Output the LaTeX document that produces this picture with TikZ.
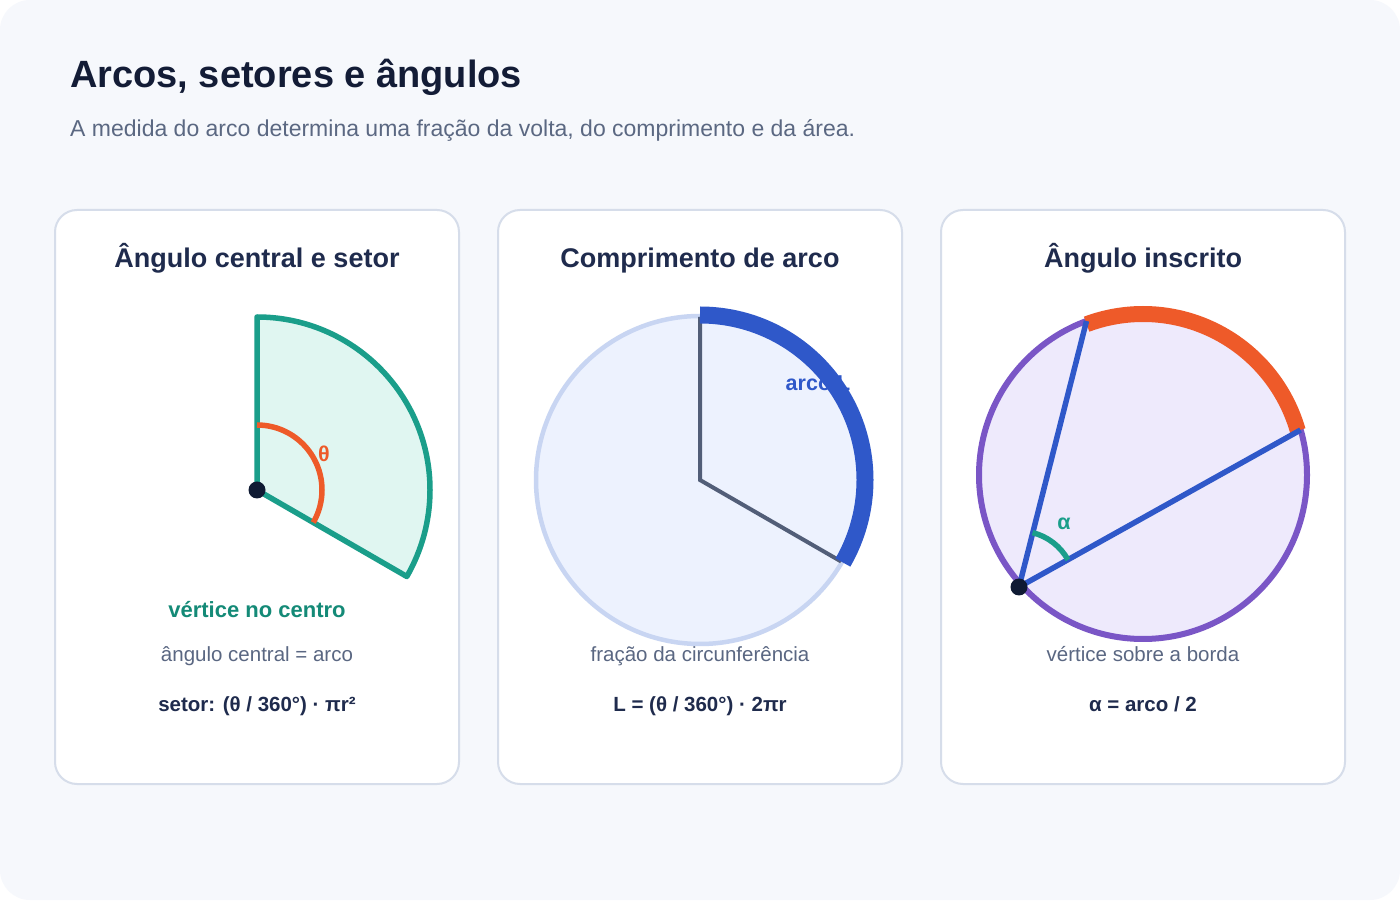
\documentclass[tikz,border=0pt]{standalone}
\usepackage{fontspec}
\setmainfont{Liberation Sans}
\usetikzlibrary{calc}
\definecolor{bgc}{HTML}{F6F8FC}
\definecolor{pborder}{HTML}{D6DDEA}
\definecolor{titlec}{HTML}{131C36}
\definecolor{subc}{HTML}{5B6882}
\definecolor{navy}{HTML}{1F2B4D}
\definecolor{tealc}{HTML}{1A9E8A}
\definecolor{tealfill}{HTML}{E0F6F1}
\definecolor{tealtext}{HTML}{148A77}
\definecolor{orangec}{HTML}{EE5A29}
\definecolor{dotc}{HTML}{0F1A33}
\definecolor{grayc}{HTML}{5A6782}
\definecolor{ptwofill}{HTML}{EDF2FE}
\definecolor{ptwostroke}{HTML}{C8D5F2}
\definecolor{radc}{HTML}{525E78}
\definecolor{bluec}{HTML}{2F58C9}
\definecolor{purplec}{HTML}{7A56C6}
\definecolor{pthreefill}{HTML}{EEEAFC}
\begin{document}
\begin{tikzpicture}[x=1pt,y=1pt,
  panel/.style={draw=pborder, line width=2, fill=white, rounded corners=22},
  ptitle/.style={anchor=base, text=navy, font=\fontsize{27}{32}\selectfont\bfseries},
  note/.style={anchor=base, text=grayc, font=\fontsize{20.5}{24}\selectfont},
  formula/.style={anchor=base, text=navy, font=\fontsize{20.5}{24}\selectfont\bfseries},
  dot/.style={circle, fill=dotc, inner sep=0pt, minimum size=17},
  lbl/.style={font=\fontsize{21.5}{26}\selectfont\bfseries}]
\fill[white] (0,0) rectangle (1400,900);
\fill[bgc, rounded corners=30] (0,0) rectangle (1400,900);
\useasboundingbox (0,0) rectangle (1400,900);

% header
\node[anchor=base west, text=titlec, font=\fontsize{38}{45}\selectfont\bfseries, inner sep=0] (title) at (70,812) {Arcos, setores e ângulos};
\node[anchor=base west, text=subc, font=\fontsize{23}{27}\selectfont, inner sep=0] (subtitle) at (70,763) {A medida do arco determina uma fração da volta, do comprimento e da área.};

% panels
\draw[panel] (55,116) rectangle (459,690);
\draw[panel] (498,116) rectangle (902,690);
\draw[panel] (941,116) rectangle (1345,690);

% panel 1
\node[ptitle] (t1) at (257,632) {Ângulo central e setor};
\coordinate (c1) at (257,410);
\filldraw[fill=tealfill, draw=tealc, line width=5.5, line join=round]
  (c1) -- ++(90:173) arc[start angle=90, end angle=-30, radius=173] -- cycle;
\draw[orangec, line width=5.5] (c1) ++(90:65) arc[start angle=90, end angle=-30, radius=65];
\node[lbl, text=orangec] (theta) at (324,446) {θ};
\node[dot] (v1) at (c1) {};
\node[anchor=base, text=tealtext, font=\fontsize{22}{26}\selectfont\bfseries] (n1a) at (257,282) {vértice no centro};
\node[note] (n1b) at (257,238) {ângulo central = arco};
\node[formula] (n1c) at (257,189) {setor: (θ / 360°) · πr²};

% panel 2
\node[ptitle] (t2) at (700,632) {Comprimento de arco};
\coordinate (c2) at (700,420);
\filldraw[fill=ptwofill, draw=ptwostroke, line width=4.5] (c2) circle (164);
\draw[radc, line width=4] (c2) ++(90:163) -- (c2) -- ++(-30:163);
\node[lbl, text=bluec] (arcL) at (818,517) {arco L};
\draw[bluec, line width=17] (c2) ++(90:165) arc[start angle=90, end angle=-30, radius=165];
\node[note] (n2b) at (700,238) {fração da circunferência};
\node[formula] (n2c) at (700,189) {L = (θ / 360°) · 2πr};

% panel 3
\node[ptitle] (t3) at (1143,632) {Ângulo inscrito};
\coordinate (c3) at (1143,425);
\filldraw[fill=pthreefill, draw=purplec, line width=6] (c3) circle (164);
\draw[orangec, line width=16] (c3) ++(16:161) arc[start angle=16, end angle=110.5, radius=161];
\coordinate (va) at (1019,313);
\coordinate (pa) at (1086.5,579);
\coordinate (pb) at (1300.5,470);
\draw[bluec, line width=5.5] (pa) -- (va) -- (pb);
\draw[tealc, line width=5.5] (va) ++(76:56) arc[start angle=76, end angle=29, radius=56];
\node[lbl, text=tealc] (alpha) at (1064,376) {α};
\node[dot] (v3) at (va) {};
\node[note] (n3b) at (1143,238) {vértice sobre a borda};
\node[formula] (n3c) at (1143,189) {α = arco / 2};
\end{tikzpicture}
\end{document}
